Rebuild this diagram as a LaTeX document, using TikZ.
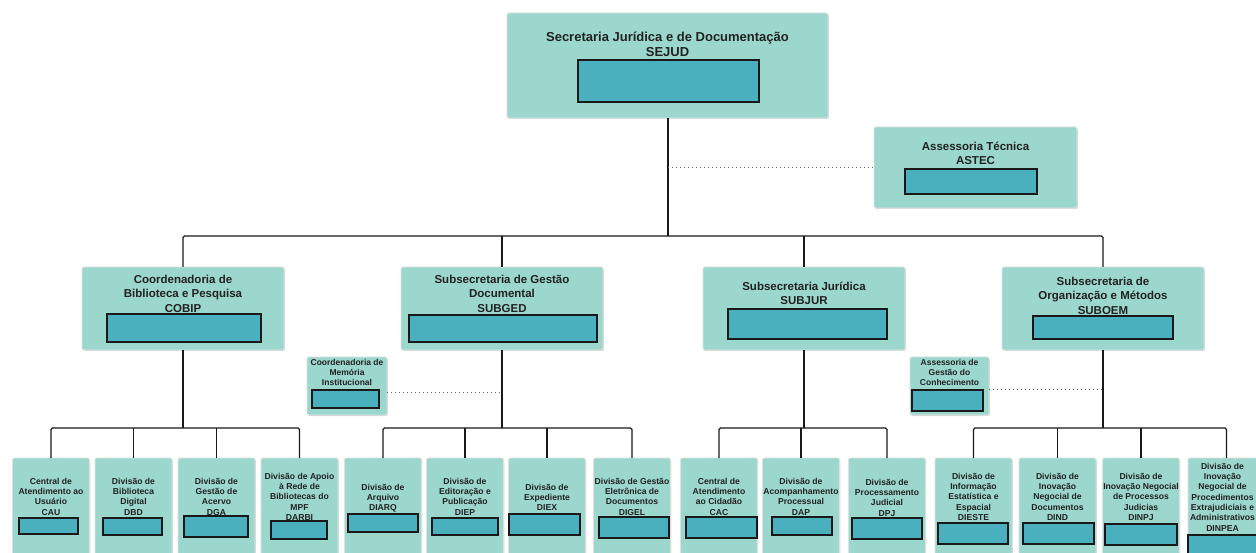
\documentclass[tikz,border=0pt]{standalone}
\usepackage{fontspec}
\setmainfont{Liberation Sans}
\usetikzlibrary{shadows}
\definecolor{boxfill}{HTML}{9BD7CC}
\definecolor{innerfill}{HTML}{4BB0BD}
\definecolor{txt}{HTML}{222222}
\newcommand\fA{\fontsize{13}{15}\selectfont\bfseries}
\newcommand\fB{\fontsize{11.5}{14.5}\selectfont\bfseries}
\newcommand\fC{\fontsize{8.6}{10.3}\selectfont\bfseries}
\newcommand\fD{\fontsize{8.5}{10}\selectfont\bfseries}
\newcommand\fl{\rule{0pt}{1em}}
\newcommand\ob[5]{\pgfmathsetmacro\cx{(#2+#4)/2}\pgfmathsetmacro\cy{(#3+#5)/2}\pgfmathsetmacro\ww{#4-#2}\pgfmathsetmacro\hh{#5-#3}\node[outerbox,minimum width=\ww pt,minimum height=\hh pt] (#1) at (\cx,\cy) {};}
\newcommand\ib[5]{\pgfmathsetmacro\cx{(#2+#4)/2}\pgfmathsetmacro\cy{(#3+#5)/2}\pgfmathsetmacro\ww{#4-#2}\pgfmathsetmacro\hh{#5-#3}\node[innerbox,minimum width=\ww pt,minimum height=\hh pt] (#1) at (\cx,\cy) {};}
\tikzset{
 outerbox/.style={draw=black!12, line width=0.8pt, fill=boxfill, rounded corners=1.5pt, inner sep=0pt, outer sep=0pt, drop shadow={shadow xshift=0.8pt, shadow yshift=-1pt, opacity=0.3}},
 innerbox/.style={draw=black!90, line width=1.2pt, fill=innerfill, inner sep=0pt, outer sep=0pt},
 lbl/.style={anchor=north, inner sep=0pt, align=center, text=txt},
 conn/.style={draw=black!90, line width=1.3pt, rounded corners=1.5pt},
 dotline/.style={draw=black!60, line width=1pt, dash pattern=on 1pt off 3pt},
}
\begin{document}
\begin{tikzpicture}[x=1pt,y=-1pt]
\useasboundingbox (0,0) rectangle (1256,553);
% ---------- outer boxes
\ob{sejud}{507}{13}{828}{118}
\ob{astec}{874}{127}{1077}{208}
\ob{cobip}{82}{267}{284}{350}
\ob{subged}{401}{267}{603}{350}
\ob{subjur}{703}{267}{905}{350}
\ob{suboem}{1002}{267}{1204}{350}
\ob{cmi}{307}{357}{387}{415}
\ob{agc}{910}{357}{989}{415}
\ob{cau}{12.5}{458}{89.5}{560}
\ob{dbd}{95}{458}{172}{560}
\ob{dga}{178}{458}{255}{560}
\ob{darbi}{261}{458}{338}{560}
\ob{diarq}{344.5}{458}{421.5}{560}
\ob{diep}{426.5}{458}{503.5}{560}
\ob{diex}{508.5}{458}{585.5}{560}
\ob{digel}{593.5}{458}{670.5}{560}
\ob{cac}{680.5}{458}{757.5}{560}
\ob{dap}{762.5}{458}{839.5}{560}
\ob{dpj}{848.5}{458}{925.5}{560}
\ob{dieste}{935}{458}{1012}{560}
\ob{dind}{1019}{458}{1096}{560}
\ob{dinpj}{1102.5}{458}{1179.5}{560}
\ob{dinpea}{1188}{458}{1265}{560}
% ---------- inner boxes
\ib{sejudi}{578}{60}{759}{102}
\ib{asteci}{905}{169}{1037}{194}
\ib{cobipi}{107}{314}{261}{342}
\ib{subgedi}{409}{315}{597}{342}
\ib{subjuri}{728}{309}{887}{339}
\ib{suboemi}{1033}{316}{1173}{339}
\ib{cmii}{312}{390}{379}{408}
\ib{agci}{912}{390}{983}{411}
\ib{caui}{19}{518}{78}{534}
\ib{dbdi}{103}{518}{162}{535}
\ib{dgai}{184}{516}{248}{537}
\ib{darbii}{271}{521}{327}{539}
\ib{diarqi}{348}{514}{418}{532}
\ib{diepi}{432}{518}{498}{535}
\ib{diexi}{509}{514}{580}{535}
\ib{digeli}{599}{517}{669}{538}
\ib{caci}{686}{517}{757}{538}
\ib{dapi}{772}{517}{832}{535}
\ib{dpji}{852}{518}{922}{539}
\ib{diestei}{938}{523}{1008}{544}
\ib{dindi}{1023}{523}{1094}{544}
\ib{dinpji}{1105}{524}{1177}{545}
\ib{dinpeai}{1188}{535}{1262}{560}
% ---------- labels
\node[lbl, font=\fA] (sejudt) at (667.5,28.5) {\fl Secretaria Jurídica e de Documentação\\SEJUD};
\node[lbl, font=\fB] (astect) at (975.5,138.5) {\fl Assessoria Técnica\\ASTEC};
\node[lbl, font=\fB] (cobipt) at (183,271.5) {\fl Coordenadoria de\\Biblioteca e Pesquisa\\COBIP};
\node[lbl, font=\fB] (subgedt) at (502,271.5) {\fl Subsecretaria de Gestão\\Documental\\SUBGED};
\node[lbl, font=\fB] (subjurt) at (804,278.5) {\fl Subsecretaria Jurídica\\SUBJUR};
\node[lbl, font=\fB] (suboemt) at (1103,273.5) {\fl Subsecretaria de\\Organização e Métodos\\SUBOEM};
\node[lbl, font=\fD] (cmit) at (347,356.5) {\fl Coordenadoria de\\Memória\\Institucional};
\node[lbl, font=\fD] (agct) at (949.5,356.5) {\fl Assessoria de\\Gestão do\\Conhecimento};
\node[lbl, font=\fC] (caut) at (51,475.4) {\fl Central de\\Atendimento ao\\Usuário\\CAU};
\node[lbl, font=\fC] (dbdt) at (133.5,475.4) {\fl Divisão de\\Biblioteca\\Digital\\DBD};
\node[lbl, font=\fC] (dgat) at (216.5,475.4) {\fl Divisão de\\Gestão de\\Acervo\\DGA};
\node[lbl, font=\fC] (darbit) at (299.5,470.4) {\fl Divisão de Apoio\\à Rede de\\Bibliotecas do\\MPF\\DARBI};
\node[lbl, font=\fC] (diarqt) at (383,481.4) {\fl Divisão de\\Arquivo\\DIARQ};
\node[lbl, font=\fC] (diept) at (465,475.4) {\fl Divisão de\\Editoração e\\Publicação\\DIEP};
\node[lbl, font=\fC] (diext) at (547,481.4) {\fl Divisão de\\Expediente\\DIEX};
\node[lbl, font=\fC] (digelt) at (632,475.4) {\fl Divisão de Gestão\\Eletrônica de\\Documentos\\DIGEL};
\node[lbl, font=\fC] (cact) at (719,475.4) {\fl Central de\\Atendimento\\ao Cidadão\\CAC};
\node[lbl, font=\fC] (dapt) at (801,475.4) {\fl Divisão de\\Acompanhamento\\Processual\\DAP};
\node[lbl, font=\fC] (dpjt) at (887,476.4) {\fl Divisão de\\Processamento\\Judicial\\DPJ};
\node[lbl, font=\fC] (diestet) at (973.5,470.4) {\fl Divisão de\\Informação\\Estatística e\\Espacial\\DIESTE};
\node[lbl, font=\fC] (dindt) at (1057.5,470.4) {\fl Divisão de\\Inovação\\Negocial de\\Documentos\\DIND};
\node[lbl, font=\fC] (dinpjt) at (1141,470.4) {\fl Divisão de\\Inovação Negocial\\de Processos\\Judicias\\DINPJ};
\node[lbl, font=\fC] (dinpeat) at (1222.5,460.4) {\fl Divisão de\\Inovação\\Negocial de\\Procedimentos\\Extrajudiciais e\\Administrativos\\DINPEA};
% ---------- connector coordinates
\coordinate (busT) at (668,236);
\coordinate (busA) at (183,428);
\coordinate (busB) at (502,428);
\coordinate (busC) at (804,428);
\coordinate (busD) at (1103,428);
\coordinate (cmiT) at (502,392);
\coordinate (agcT) at (1103,389);
% ---------- connectors
\draw[conn] (sejud.south -| busT) -- (busT);
\draw[conn] (cobip.north) |- (busT) -| (suboem.north);
\draw[conn] (subged.north) -- (subged.north |- busT);
\draw[conn] (subjur.north) -- (subjur.north |- busT);
\draw[dotline] (astec.west -| busT) -- (astec.west);
\draw[conn] (cobip.south) -- (busA);
\draw[conn] (cau.north) |- (busA) -| (darbi.north);
\draw[conn] (dbd.north) -- (dbd.north |- busA);
\draw[conn] (dga.north) -- (dga.north |- busA);
\draw[conn] (subged.south) -- (busB);
\draw[conn] (diarq.north) |- (busB) -| (digel.north);
\draw[conn] (diep.north) -- (diep.north |- busB);
\draw[conn] (diex.north) -- (diex.north |- busB);
\draw[conn] (subjur.south) -- (busC);
\draw[conn] (cac.north) |- (busC) -| (dpj.north);
\draw[conn] (dap.north) -- (dap.north |- busC);
\draw[conn] (suboem.south) -- (busD);
\draw[conn] (dieste.north) |- (busD) -| (dinpea.north);
\draw[conn] (dind.north) -- (dind.north |- busD);
\draw[conn] (dinpj.north) -- (dinpj.north |- busD);
\draw[dotline] (cmi.east |- cmiT) -- (cmiT);
\draw[dotline] (agc.east |- agcT) -- (agcT);
\end{tikzpicture}
\end{document}
